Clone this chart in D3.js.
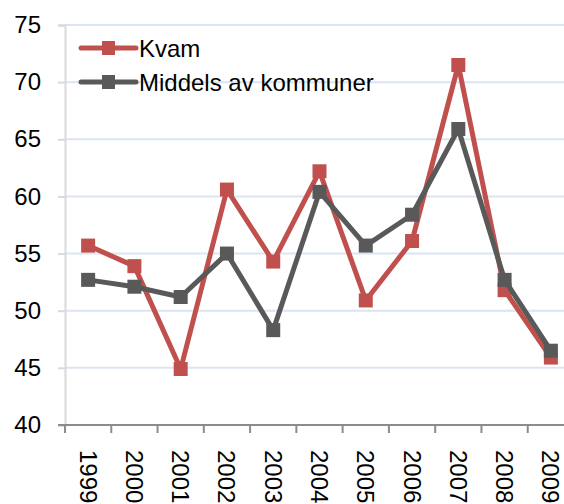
<!DOCTYPE html>
<html>
<head>
<meta charset="utf-8">
<script src="https://cdn.jsdelivr.net/npm/d3@7"></script>
<style>
  body { margin: 0; background: #fff; }
  svg { display: block; font-family: "Liberation Sans", Arial, sans-serif; }
</style>
</head>
<body>
<div id="chart"></div>
<script>
const years = ["1999", "2000", "2001", "2002", "2003", "2004", "2005", "2006", "2007", "2008", "2009"];
const kvam = [55.7, 53.9, 44.9, 60.6, 54.3, 62.2, 50.9, 56.1, 71.5, 51.8, 45.9];
const middels = [52.7, 52.1, 51.2, 55.0, 48.3, 60.4, 55.7, 58.4, 65.9, 52.7, 46.5];
const yTicks = [40, 45, 50, 55, 60, 65, 70, 75];
const seriesNames = ["Kvam", "Middels av kommuner"];

const FRAME_WIDTH = 564;
const FRAME_HEIGHT = 504;
const PLOT = { left: 65, right: 574, top: 25, bottom: 425 };
const COLORS = ["#C0504D", "#595959"];
const FONT_SIZE = 24;

const FRAME = d3.select("#chart")
  .append("svg")
  .attr("width", FRAME_WIDTH)
  .attr("height", FRAME_HEIGHT);

const X_SCALE = d3.scaleBand()
  .domain(years)
  .range([PLOT.left, PLOT.right]);

const Y_SCALE = d3.scaleLinear()
  .domain([40, 75])
  .range([PLOT.bottom, PLOT.top]);

// gridlines
FRAME.append("g")
  .selectAll("line")
  .data(yTicks.filter(t => t > 40))
  .enter()
  .append("line")
  .attr("x1", PLOT.left)
  .attr("x2", FRAME_WIDTH)
  .attr("y1", d => Y_SCALE(d))
  .attr("y2", d => Y_SCALE(d))
  .attr("stroke", "#dbe5f1")
  .attr("stroke-width", 2);

// y axis
const Y_AXIS = d3.axisLeft(Y_SCALE)
  .tickValues(yTicks)
  .tickSize(7)
  .tickPadding(17);

const yAxisG = FRAME.append("g")
  .attr("transform", `translate(${PLOT.left}, 0)`)
  .call(Y_AXIS);
yAxisG.select(".domain").attr("stroke", "#d9d9d9").attr("stroke-width", 2);
yAxisG.selectAll(".tick line").attr("stroke", "#d9d9d9").attr("stroke-width", 2);
yAxisG.selectAll(".tick text")
  .attr("font-size", FONT_SIZE)
  .attr("font-family", "Liberation Sans, Arial, sans-serif")
  .attr("fill", "#000");

// x axis
const X_AXIS = d3.axisBottom(X_SCALE).tickSize(0).tickPadding(0);
const xAxisG = FRAME.append("g")
  .attr("transform", `translate(0, ${PLOT.bottom})`)
  .call(X_AXIS);
xAxisG.select(".domain").remove();
xAxisG.append("line")
  .attr("x1", PLOT.left - 7)
  .attr("x2", FRAME_WIDTH)
  .attr("stroke", "#8c8c8c")
  .attr("stroke-width", 2);
xAxisG.selectAll(".boundary")
  .data(years)
  .enter()
  .append("line")
  .attr("class", "boundary")
  .attr("x1", d => X_SCALE(d))
  .attr("x2", d => X_SCALE(d))
  .attr("y1", 0)
  .attr("y2", 8)
  .attr("stroke", "#8c8c8c")
  .attr("stroke-width", 2);
xAxisG.selectAll(".tick text")
  .attr("font-size", FONT_SIZE)
  .attr("font-family", "Liberation Sans, Arial, sans-serif")
  .attr("fill", "#000")
  .attr("text-anchor", "start")
  .attr("dominant-baseline", "central")
  .attr("dy", null)
  .attr("y", 0)
  .attr("transform", "translate(0, 25) rotate(90)");

// lines and markers
const allSeries = [kvam, middels];
const line = d3.line()
  .x((d, i) => X_SCALE(years[i]) + X_SCALE.bandwidth() / 2)
  .y(d => Y_SCALE(d));

allSeries.forEach((values, s) => {
  const g = FRAME.append("g");
  g.append("path")
    .datum(values)
    .attr("d", line)
    .attr("fill", "none")
    .attr("stroke", COLORS[s])
    .attr("stroke-width", 5)
    .attr("stroke-linejoin", "round");
  g.selectAll("rect")
    .data(values)
    .enter()
    .append("rect")
    .attr("x", (d, i) => X_SCALE(years[i]) + X_SCALE.bandwidth() / 2 - 7)
    .attr("y", d => Y_SCALE(d) - 7)
    .attr("width", 14)
    .attr("height", 14)
    .attr("fill", COLORS[s]);
});

// legend
const legend = FRAME.append("g");
seriesNames.forEach((name, s) => {
  const ly = 48 + s * 34;
  legend.append("line")
    .attr("x1", 81).attr("x2", 136)
    .attr("y1", ly).attr("y2", ly)
    .attr("stroke", COLORS[s])
    .attr("stroke-width", 5)
    .attr("stroke-linecap", "round");
  legend.append("rect")
    .attr("x", 102).attr("y", ly - 7)
    .attr("width", 13).attr("height", 14)
    .attr("fill", COLORS[s]);
  legend.append("text")
    .attr("x", 139)
    .attr("y", ly)
    .attr("dominant-baseline", "central")
    .attr("font-size", FONT_SIZE)
    .attr("fill", "#000")
    .text(name);
});
</script>
</body>
</html>
